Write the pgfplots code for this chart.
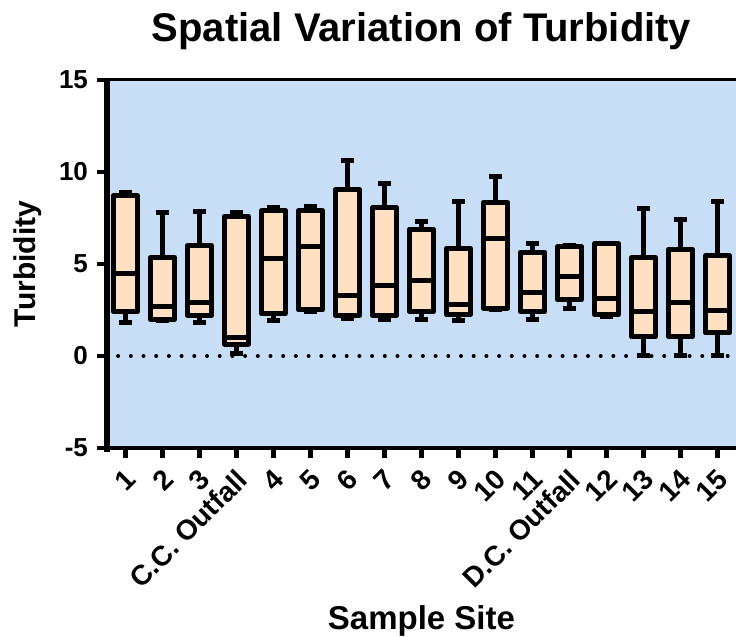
\documentclass[border=0pt]{standalone}
\usepackage{fontspec}
\setmainfont{Liberation Sans}
\usepackage{pgfplots}
\pgfplotsset{compat=1.18}
\usepgfplotslibrary{statistics}
\definecolor{bgblue}{RGB}{200,222,246}
\definecolor{peach}{RGB}{255,224,194}
\newcommand\bx[6]{\addplot[draw=black, fill=peach, line width=2.5pt, line join=round,
  boxplot/draw direction=y, boxplot/box extend=0.65, boxplot/whisker extend=0.33,
  boxplot prepared={draw position=#1, lower whisker=#2, lower quartile=#3, median=#4, upper quartile=#5, upper whisker=#6}] coordinates {};}
\begin{document}
\begin{tikzpicture}
\useasboundingbox (-53.5pt,-94.5pt) rectangle (314.5pt,224pt);
\begin{axis}[
  at={(0pt,0pt)}, anchor=south west,
  scale only axis, width=314.5pt, height=184pt,
  xmin=0.5, xmax=17.5, ymin=-5, ymax=15,
  ytick={-5,0,5,10,15},
  xtick={1,...,17},
  xticklabels={1,2,3,C.C. Outfall,4,5,6,7,8,9,10,11,D.C. Outfall,12,13,14,15},
  xtick pos=bottom, ytick pos=left,
  tick align=outside, major tick length=5pt,
  tick style={black, line width=2.2pt},
  axis line style={draw=none},
  axis background/.style={fill=bgblue},
  /pgf/number format/assume math mode=true,
  yticklabel style={font=\bfseries\fontsize{13}{15}\selectfont, xshift=-1pt},
  xticklabel style={font=\bfseries\fontsize{14}{16}\selectfont, rotate=45, anchor=east, xshift=-0.5pt, yshift=-8pt},
  every axis title shift=0pt,
  title={Spatial Variation of Turbidity},
  title style={font=\bfseries\fontsize{20}{24}\selectfont, at={(axis description cs:0.5,1)}, anchor=base, yshift=19pt},
  xlabel={Sample Site},
  xlabel style={font=\bfseries\fontsize{16.5}{19}\selectfont, at={(axis description cs:0.5,-0.47)}, anchor=center},
  ylabel={Turbidity},
  ylabel style={font=\bfseries\fontsize{15}{18}\selectfont, at={(axis description cs:-0.126,0.5)}, anchor=center},
  clip=false,
]
\addplot[black, line width=2pt, line cap=round, dash pattern=on 0pt off 6.35pt] coordinates {(0.8,0) (17.5,0)};
\bx{1}{1.8}{2.4}{4.5}{8.7}{8.9}
\bx{2}{1.95}{2.0}{2.7}{5.35}{7.8}
\bx{3}{1.8}{2.2}{2.9}{6.0}{7.85}
\bx{4}{0.15}{0.65}{1.0}{7.6}{7.8}
\bx{5}{1.95}{2.3}{5.3}{7.9}{8.05}
\bx{6}{2.4}{2.5}{5.95}{7.9}{8.15}
\bx{7}{2.05}{2.2}{3.3}{9.05}{10.65}
\bx{8}{2.0}{2.2}{3.85}{8.05}{9.4}
\bx{9}{2.0}{2.4}{4.1}{6.9}{7.3}
\bx{10}{1.95}{2.25}{2.8}{5.85}{8.4}
\bx{11}{2.55}{2.6}{6.4}{8.35}{9.75}
\bx{12}{2.0}{2.4}{3.45}{5.65}{6.1}
\bx{13}{2.6}{3.05}{4.3}{5.95}{6.0}
\bx{14}{2.15}{2.25}{3.1}{6.1}{6.1}
\bx{15}{0}{1.05}{2.4}{5.35}{8.0}
\bx{16}{0}{1.05}{2.9}{5.8}{7.4}
\bx{17}{0}{1.25}{2.45}{5.45}{8.4}
\draw[black, line width=1.5pt] (rel axis cs:0,1) -- (rel axis cs:1,1);
\draw[black, line width=1.75pt] (rel axis cs:0,0) -- (rel axis cs:1,0);
\draw[black, line width=2.6pt] (rel axis cs:0,-0.012) -- (rel axis cs:0,1.004);
\end{axis}
\end{tikzpicture}
\end{document}
